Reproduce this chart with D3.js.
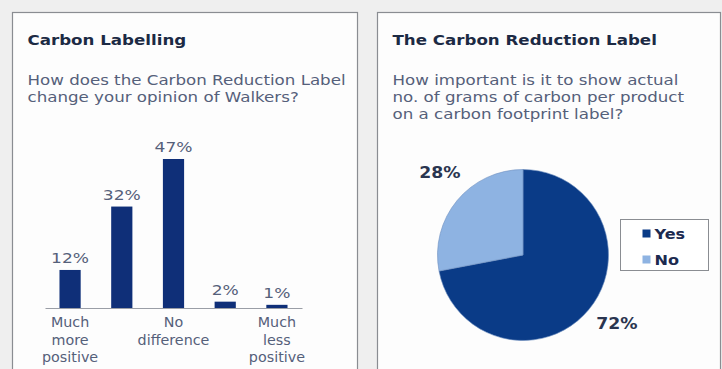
<!DOCTYPE html>
<html>
<head>
<meta charset="utf-8">
<script src="https://cdn.jsdelivr.net/npm/d3@7"></script>
<style>
  html, body { margin: 0; padding: 0; background: #efefef; }
  svg { display: block; font-family: "DejaVu Sans", Verdana, sans-serif; }
</style>
</head>
<body>
<svg id="chart" width="722" height="369"></svg>
<script>
// Survey results: opinion change (bars) and importance of showing grams of carbon (pie)
const opinionCategories = ["Much more positive", "More positive", "No difference", "Less positive", "Much less positive"];
const opinionLabels = [["Much", "more", "positive"], [], ["No", "difference"], [], ["Much", "less", "positive"]];
const opinionValues = [12, 32, 47, 2, 1];

const importanceCategories = ["Yes", "No"];
const importanceValues = [72, 28];

const svg = d3.select("#chart");

const navy = "#0f2f78";
const textBlue = "#55607a";
const titleColor = "#1c2a44";
const pieColors = { Yes: "#0a3b87", No: "#8eb3e2" };

// Text drawn in a slightly wide face: positioned by transform, stretched horizontally
function label(parent, x, y, txt, opts) {
  const o = Object.assign({ size: 14, sx: 1.15, anchor: "start", weight: "normal", fill: textBlue }, opts || {});
  return parent.append("text")
    .attr("transform", `translate(${x},${y}) scale(${o.sx},1)`)
    .attr("text-anchor", o.anchor)
    .attr("font-size", o.size)
    .attr("font-weight", o.weight)
    .attr("fill", o.fill)
    .text(txt);
}

// Panels
const panels = [
  { x: 12.5, w: 345, title: "Carbon Labelling",
    question: ["How does the Carbon Reduction Label", "change your opinion of Walkers?"] },
  { x: 377.5, w: 343, title: "The Carbon Reduction Label",
    question: ["How important is it to show actual", "no. of grams of carbon per product", "on a carbon footprint label?"] }
];

panels.forEach(p => {
  svg.append("rect")
    .attr("x", p.x).attr("y", 12.5)
    .attr("width", p.w).attr("height", 370)
    .attr("fill", "#fdfdfd")
    .attr("stroke", "#8a8d92").attr("stroke-width", 1.2);
  label(svg, p.x + 15, 45, p.title, { size: 14.5, weight: "bold", fill: titleColor, sx: 1.15 });
  p.question.forEach((line, i) => {
    label(svg, p.x + 15, 85 + i * 17, line, { size: 14.5, sx: 1.15 });
  });
});

// Bar chart
const x = d3.scaleBand()
  .domain(opinionCategories)
  .range([45, 302])
  .paddingInner(0.59)
  .paddingOuter(0.28);

const y = d3.scaleLinear()
  .domain([0, 47])
  .range([308, 159]);

const bars = svg.append("g");
bars.selectAll("rect")
  .data(opinionValues)
  .join("rect")
  .attr("x", (d, i) => x(opinionCategories[i]))
  .attr("y", d => y(d))
  .attr("width", x.bandwidth())
  .attr("height", d => y(0) - y(d))
  .attr("fill", navy);

opinionValues.forEach((d, i) => {
  label(bars, x(opinionCategories[i]) + x.bandwidth() / 2, y(d) - 7, d + "%",
    { size: 14.5, anchor: "middle", sx: 1.18 });
});

// Baseline axis
const axis = svg.append("g")
  .attr("transform", `translate(0,${y(0)})`)
  .call(d3.axisBottom(x).tickSize(0).tickFormat(""));
axis.select(".domain").attr("stroke", "#9a9ea6").attr("stroke-width", 1.2);

opinionCategories.forEach((c, i) => {
  opinionLabels[i].forEach((line, j) => {
    label(svg, x(c) + x.bandwidth() / 2, 327 + j * 17.5, line,
      { size: 13.5, anchor: "middle", sx: 1.06 });
  });
});

// Pie chart
const cx = 523, cy = 255, r = 85.5;
const pie = d3.pie().sort(null).value(d => d)(importanceValues);
const arc = d3.arc().innerRadius(0).outerRadius(r);
const pg = svg.append("g").attr("transform", `translate(${cx},${cy})`);
pg.selectAll("path")
  .data(pie)
  .join("path")
  .attr("d", arc)
  .attr("fill", (d, i) => pieColors[importanceCategories[i]])
  .attr("stroke", "#6d8fbf").attr("stroke-width", 0.6);

// Slice labels
const labelPos = [[617, 329], [440, 178]];
pie.forEach((d, i) => {
  label(svg, labelPos[i][0], labelPos[i][1], importanceValues[i] + "%",
    { size: 15, weight: "bold", anchor: "middle", fill: "#2a3550", sx: 1.15 });
});

// Legend
const lg = svg.append("g").attr("transform", "translate(620.5,219.5)");
lg.append("rect")
  .attr("width", 88).attr("height", 51)
  .attr("fill", "#ffffff")
  .attr("stroke", "#8a8d92").attr("stroke-width", 1);
importanceCategories.forEach((c, i) => {
  lg.append("rect")
    .attr("x", 22).attr("y", 10 + i * 26)
    .attr("width", 8).attr("height", 8)
    .attr("fill", pieColors[c]);
  label(lg, 34, 19 + i * 26, c, { size: 14, weight: "bold", fill: "#1c2a50", sx: 1.15 });
});
</script>
</body>
</html>
